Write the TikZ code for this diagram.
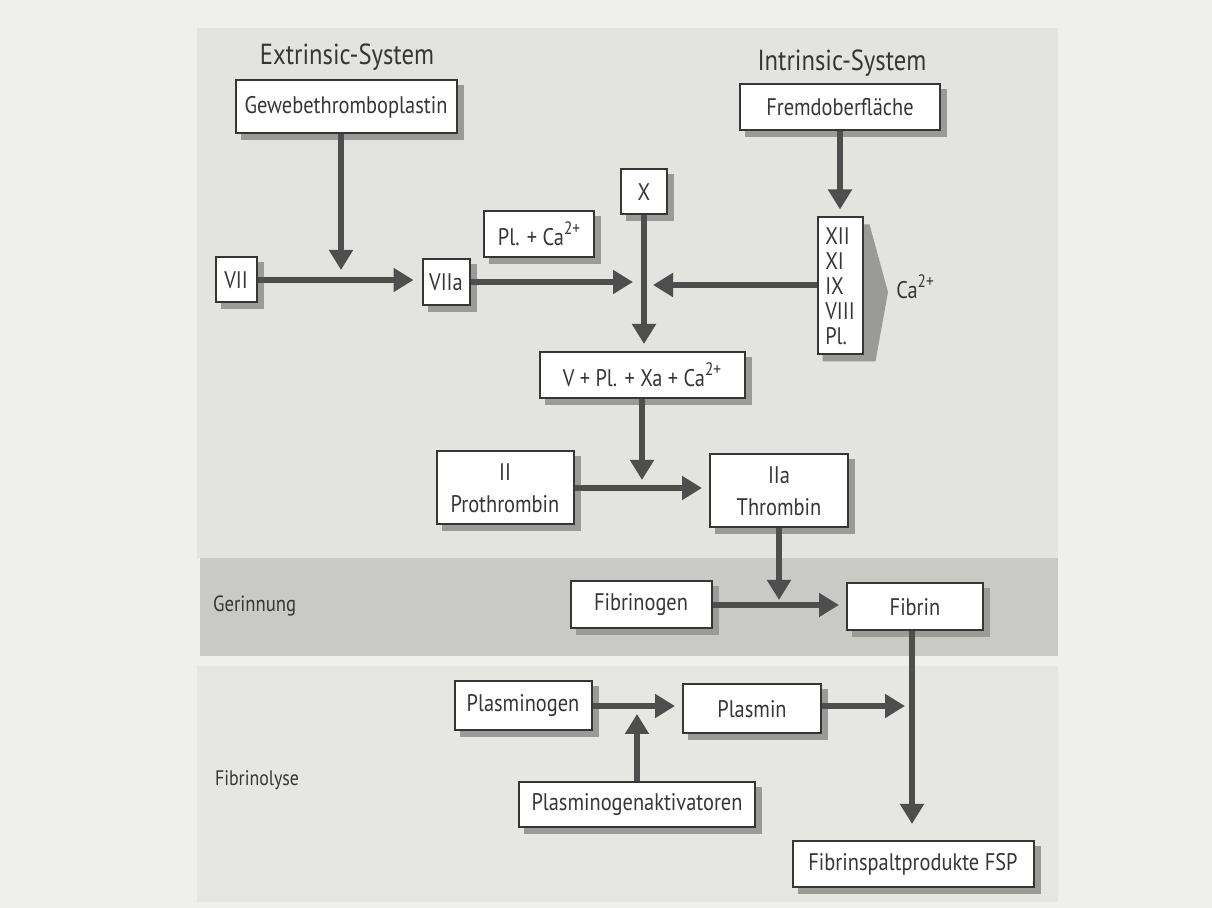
\documentclass[tikz,border=0pt]{standalone}
\usepackage{fontspec}
\setmainfont{PT Sans}[FakeStretch=0.85]
\usetikzlibrary{arrows.meta,calc}
\definecolor{outerbg}{HTML}{EFEFEC}
\definecolor{panelbg}{HTML}{E3E3E0}
\definecolor{bandbg}{HTML}{C9C9C6}
\definecolor{lowbg}{HTML}{E6E6E3}
\definecolor{ink}{HTML}{363636}
\definecolor{arrc}{HTML}{4E4E4E}
\definecolor{shadowc}{HTML}{9A9A97}
\pgfdeclarelayer{bglayer}
\pgfdeclarelayer{shadowlayer}
\pgfsetlayers{bglayer,shadowlayer,main}
\newcommand{\casup}{Ca\raisebox{0.9ex}{\fontsize{9}{9}\selectfont 2+}}
\tikzset{
  box/.style={draw=ink, line width=1pt, fill=white, text=ink, inner sep=0pt,
    font=\fontsize{12}{16}\selectfont, align=center},
  arr/.style={draw=arrc, line width=3pt, -{Triangle[length=10pt,width=11.5pt]}},
  title/.style={text=ink, font=\fontsize{14.5}{16}\selectfont},
  side/.style={text=ink, anchor=west, font=\fontsize{11}{13}\selectfont},
}
\begin{document}
\begin{tikzpicture}[x=0.5pt,y=-0.5pt]
% backgrounds
\begin{pgfonlayer}{bglayer}
\fill[outerbg] (0,0) rectangle (1212,908);
\fill[panelbg] (197,28) rectangle (1058,558);
\fill[bandbg] (200,558) rectangle (1058,656);
\fill[lowbg] (197,666) rectangle (1058,902);
\end{pgfonlayer}
\useasboundingbox (0,0) rectangle (1212,908);

% titles
\node[title] (ext) at (347,57) {Extrinsic-System};
\node[title] (int) at (842,63) {Intrinsic-System};

% boxes
\node[box, minimum width=110.5pt, minimum height=26.5pt] (geweb) at (346,107) {Gewebethromboplastin};
\node[box, minimum width=100pt, minimum height=23pt] (fremd) at (840,107) {Fremdoberfläche};
\node[box, minimum width=23pt, minimum height=22.5pt] (X) at (644,192) {X};
\node[box, minimum width=55pt, minimum height=23pt] (plca) at (539,234) {Pl. + \casup};
\node[box, minimum width=20.5pt, minimum height=22.5pt] (VII) at (236,280) {VII};
\node[box, minimum width=23.5pt, minimum height=23pt] (VIIa) at (446,282) {VIIa};
\node[box, minimum width=22.5pt, minimum height=68.5pt, align=left, font=\fontsize{12}{12.5}\selectfont] (XII) at (840,286) {XII\\XI\\IX\\VIII\\Pl.};
\node[text=ink, font=\fontsize{12}{14}\selectfont] (ca) at (915,287) {\casup};
\node[box, minimum width=102.5pt, minimum height=23pt] (V) at (642,375) {V + Pl. + Xa + \casup};
\node[box, minimum width=68.5pt, minimum height=36.5pt] (II) at (505,488) {II\\Prothrombin};
\node[box, minimum width=69pt, minimum height=36.5pt] (IIa) at (779,491) {IIa\\Thrombin};
\node[box, minimum width=70.5pt, minimum height=23.5pt] (fgen) at (641,605) {Fibrinogen};
\node[box, minimum width=68pt, minimum height=23.5pt] (fibrin) at (915,607) {Fibrin};
\node[box, minimum width=68.5pt, minimum height=24.5pt] (pgen) at (523,706) {Plasminogen};
\node[box, minimum width=69pt, minimum height=24.5pt] (plasmin) at (752,709) {Plasmin};
\node[box, minimum width=118pt, minimum height=22.5pt] (akt) at (637,805) {Plasminogenaktivatoren};
\node[box, minimum width=120.5pt, minimum height=23pt] (fsp) at (913,864) {Fibrinspaltprodukte FSP};

% shadows
\begin{pgfonlayer}{shadowlayer}
\foreach \n in {geweb,fremd,X,plca,VII,VIIa,V,II,IIa,fgen,fibrin,pgen,plasmin,akt,fsp}{
  \fill[shadowc] ([shift={(6,6)}]\n.north west) rectangle ([shift={(6,6)}]\n.south east);
}
% chevron shade beside the intrinsic factor box
\fill[shadowc] ([shift={(6,8)}]XII.north west) -- ([shift={(6,8)}]XII.north east)
  -- (888,292) -- ([shift={(12,6)}]XII.south east) -- ([shift={(6,6)}]XII.south west) -- cycle;
\end{pgfonlayer}

% side labels
\node[side] (ger) at (206,606) {Gerinnung};
\node[side, font=\fontsize{10.5}{12}\selectfont] (fly) at (208,780) {Fibrinolyse};

% junction coordinates
\coordinate (t1) at (341,270);
\coordinate (t2) at (633,282);
\coordinate (t3) at (653,285);
\coordinate (t5) at (642,480);
\coordinate (t6) at (779,600);
\coordinate (t7) at (637,714);
\coordinate (t8) at (905,706);

% arrows
\draw[arr] (geweb.south -| t1) -- (t1);
\draw[arr, shorten >=4pt] (VII.east) -- (VII.east -| VIIa.west);
\draw[arr] (VIIa.east) -- (VIIa.east -| t2);
\draw[arr] (XII.west |- t3) -- (t3);
\draw[arr, shorten >=3.5pt] (X.south) -- (X.south |- V.north);
\draw[arr, shorten >=3.5pt] (fremd.south) -- (XII.north);
\draw[arr] (V.south) -- (t5);
\draw[arr, shorten >=3.5pt] (II.east) -- (II.east -| IIa.west);
\draw[arr] (IIa.south) -- (t6);
\draw[arr, shorten >=3.5pt] (fgen.east) -- (fgen.east -| fibrin.west);
\draw[arr, shorten >=8pt] ([xshift=-1.5pt]fibrin.south) -- ([xshift=-1.5pt]fibrin.south |- fsp.north);
\draw[arr, shorten >=3.5pt] (pgen.east) -- (pgen.east -| plasmin.west);
\draw[arr] (akt.north) -- (t7);
\draw[arr] (plasmin.east |- t8) -- (t8);
\end{tikzpicture}
\end{document}
